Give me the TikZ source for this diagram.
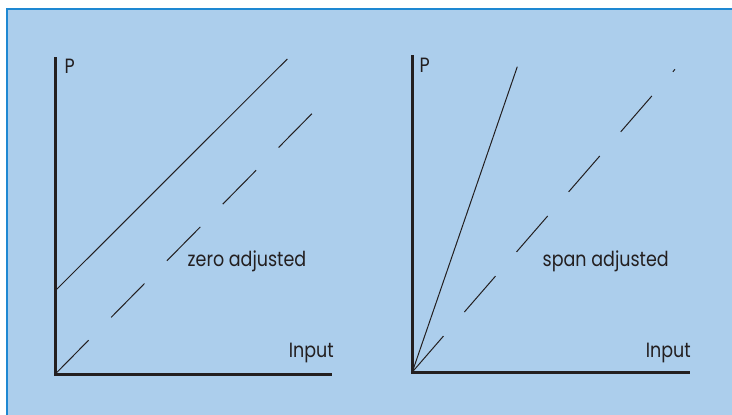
\documentclass[tikz,border=0pt]{standalone}
\usepackage{fontspec}
\setmainfont{Poppins}
\definecolor{bgfill}{RGB}{172,206,236}
\definecolor{bgedge}{RGB}{30,136,210}
\definecolor{ink}{RGB}{35,31,32}
\newcommand{\tallText}[1]{\scalebox{1}[1.18]{#1}}
\tikzset{
  axis/.style={draw=ink, line width=3pt, line cap=butt},
  curve/.style={draw=ink, line width=1pt},
  dashcurve/.style={draw=ink, line width=1pt, dash pattern=on 47.5pt off 32pt},
  lbl/.style={font=\fontsize{17.5}{21}\selectfont, text=ink, inner sep=0pt},
}
\begin{document}
\begin{tikzpicture}[x=1pt, y=-1pt]
\useasboundingbox (0,0) rectangle (732,415);
\fill[white] (0,0) rectangle (732,415);
\fill[bgfill] (7,9) rectangle (732,415);
\draw[bgedge, line width=1.2pt] (7,415) -- (7,9) -- (732,9);
% left panel
\coordinate (lo) at (55.3,374);
\coordinate (ltop) at (55.3,57);
\coordinate (lright) at (332,374);
\coordinate (lzero) at (55.3,290.7);
\coordinate (lsolidend) at (287.3,59);
\coordinate (ldashend) at (313.3,112.3);
\draw[curve] (lzero) -- (lsolidend);
\draw[dashcurve] (lo) -- (ldashend);
\draw[axis] (ltop) -- (55.3,374) -- (lright);
\node[lbl, anchor=base west] (lp) at (64.5,74) {\tallText{P}};
\node[lbl, anchor=base east] (lin) at (334,357) {\tallText{Input}};
\node[lbl, anchor=base west] (lz) at (187.5,266) {\tallText{zero adjusted}};
% right panel
\coordinate (ro) at (412.3,372);
\coordinate (rtop) at (412.3,55);
\coordinate (rright) at (690,372);
\coordinate (rsolidend) at (517.3,66.7);
\coordinate (rdashend) at (675,69.3);
\draw[curve] (ro) -- (rsolidend);
\draw[dashcurve] (ro) -- (rdashend);
\draw[axis] (rtop) -- (412.3,372) -- (rright);
\node[lbl, anchor=base west] (rp) at (419.5,72) {\tallText{P}};
\node[lbl, anchor=base east] (rin) at (691,357) {\tallText{Input}};
\node[lbl, anchor=base west] (rs) at (542.5,266) {\tallText{span adjusted}};
\end{tikzpicture}
\end{document}
